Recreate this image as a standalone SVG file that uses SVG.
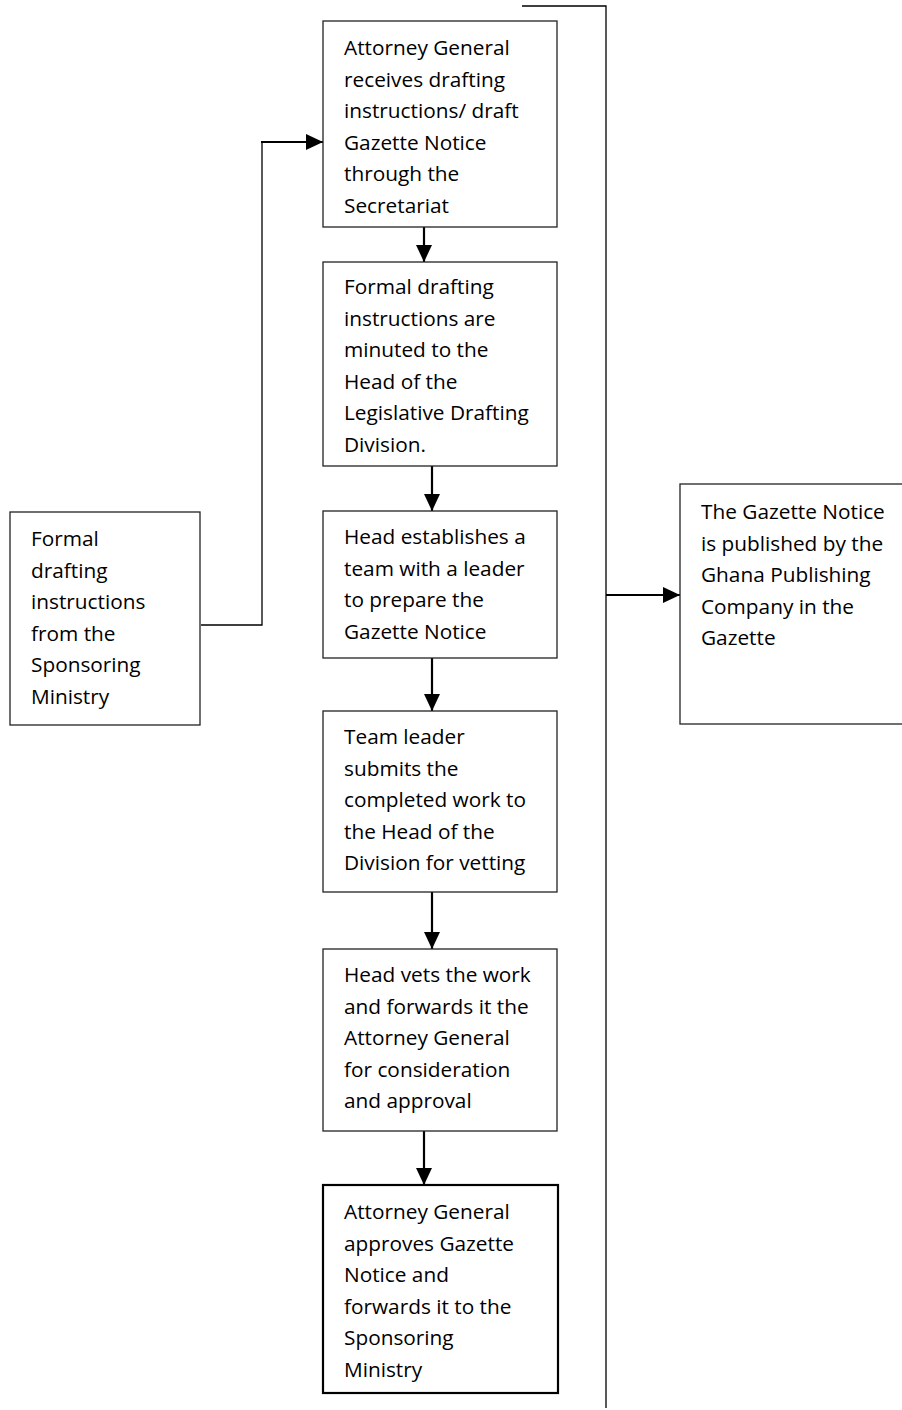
<svg xmlns="http://www.w3.org/2000/svg" width="902" height="1410" viewBox="0 0 902 1410">
<style>
.box{fill:#fff;stroke:#222;stroke-width:1.3}
.thick{stroke:#000;stroke-width:2.2}
.t{font-family:"Open Sans","Noto Sans",sans-serif;font-size:20.8px;fill:#000}
.ln{fill:none;stroke:#000;stroke-width:1.3}
.ar{fill:none;stroke:#000;stroke-width:2.2}
</style>
<defs>
<marker id="ah" markerUnits="userSpaceOnUse" markerWidth="17" markerHeight="16" refX="17" refY="8" orient="auto">
<path d="M0,0 L17,8 L0,16 z" fill="#000"/>
</marker>
</defs>
<rect width="902" height="1410" fill="#fff"/>
<g id="connectors">
<polyline class="ln" points="522,6 606,6 606,1408"/>
<polyline class="ln" points="201,625 262,625 262,142"/>
<line class="ar" x1="261" y1="142" x2="323" y2="142" marker-end="url(#ah)"/>
<line class="ar" x1="424" y1="227" x2="424" y2="262" marker-end="url(#ah)"/>
<line class="ar" x1="432" y1="466" x2="432" y2="511" marker-end="url(#ah)"/>
<line class="ar" x1="432" y1="658" x2="432" y2="711" marker-end="url(#ah)"/>
<line class="ar" x1="432" y1="892" x2="432" y2="949" marker-end="url(#ah)"/>
<line class="ar" x1="424" y1="1131" x2="424" y2="1185" marker-end="url(#ah)"/>
<line class="ar" x1="606" y1="595" x2="680" y2="595" marker-end="url(#ah)"/>
</g>
<g id="n1">
<rect class="box" x="323" y="21" width="234" height="206"/>
<text class="t" x="344"><tspan x="344" y="55">Attorney General</tspan><tspan x="344" y="86.5">receives drafting</tspan><tspan x="344" y="118">instructions/ draft</tspan><tspan x="344" y="149.5">Gazette Notice</tspan><tspan x="344" y="181">through the</tspan><tspan x="344" y="212.5">Secretariat</tspan></text>
</g>
<g id="n2">
<rect class="box" x="323" y="262" width="234" height="204"/>
<text class="t"><tspan x="344" y="294">Formal drafting</tspan><tspan x="344" y="325.5">instructions are</tspan><tspan x="344" y="357">minuted to the</tspan><tspan x="344" y="388.5">Head of the</tspan><tspan x="344" y="420">Legislative Drafting</tspan><tspan x="344" y="451.5">Division.</tspan></text>
</g>
<g id="n3">
<rect class="box" x="323" y="511" width="234" height="147"/>
<text class="t"><tspan x="344" y="544">Head establishes a</tspan><tspan x="344" y="575.5">team with a leader</tspan><tspan x="344" y="607">to prepare the</tspan><tspan x="344" y="638.5">Gazette Notice</tspan></text>
</g>
<g id="n4">
<rect class="box" x="323" y="711" width="234" height="181"/>
<text class="t"><tspan x="344" y="744">Team leader</tspan><tspan x="344" y="775.5">submits the</tspan><tspan x="344" y="807">completed work to</tspan><tspan x="344" y="838.5">the Head of the</tspan><tspan x="344" y="870">Division for vetting</tspan></text>
</g>
<g id="n5">
<rect class="box" x="323" y="949" width="234" height="182"/>
<text class="t"><tspan x="344" y="982">Head vets the work</tspan><tspan x="344" y="1013.5">and forwards it the</tspan><tspan x="344" y="1045">Attorney General</tspan><tspan x="344" y="1076.5">for consideration</tspan><tspan x="344" y="1108">and approval</tspan></text>
</g>
<g id="n6">
<rect class="box thick" x="323" y="1185" width="235" height="208"/>
<text class="t"><tspan x="344" y="1219">Attorney General</tspan><tspan x="344" y="1250.5">approves Gazette</tspan><tspan x="344" y="1282">Notice and</tspan><tspan x="344" y="1313.5">forwards it to the</tspan><tspan x="344" y="1345">Sponsoring</tspan><tspan x="344" y="1376.5">Ministry</tspan></text>
</g>
<g id="n7">
<rect class="box" x="10" y="512" width="190" height="213"/>
<text class="t"><tspan x="31" y="546">Formal</tspan><tspan x="31" y="577.5">drafting</tspan><tspan x="31" y="609">instructions</tspan><tspan x="31" y="640.5">from the</tspan><tspan x="31" y="672">Sponsoring</tspan><tspan x="31" y="703.5">Ministry</tspan></text>
</g>
<g id="n8">
<rect class="box" x="680" y="484" width="230" height="240"/>
<text class="t"><tspan x="701" y="519">The Gazette Notice</tspan><tspan x="701" y="550.5">is published by the</tspan><tspan x="701" y="582">Ghana Publishing</tspan><tspan x="701" y="613.5">Company in the</tspan><tspan x="701" y="645">Gazette</tspan></text>
</g>
</svg>
